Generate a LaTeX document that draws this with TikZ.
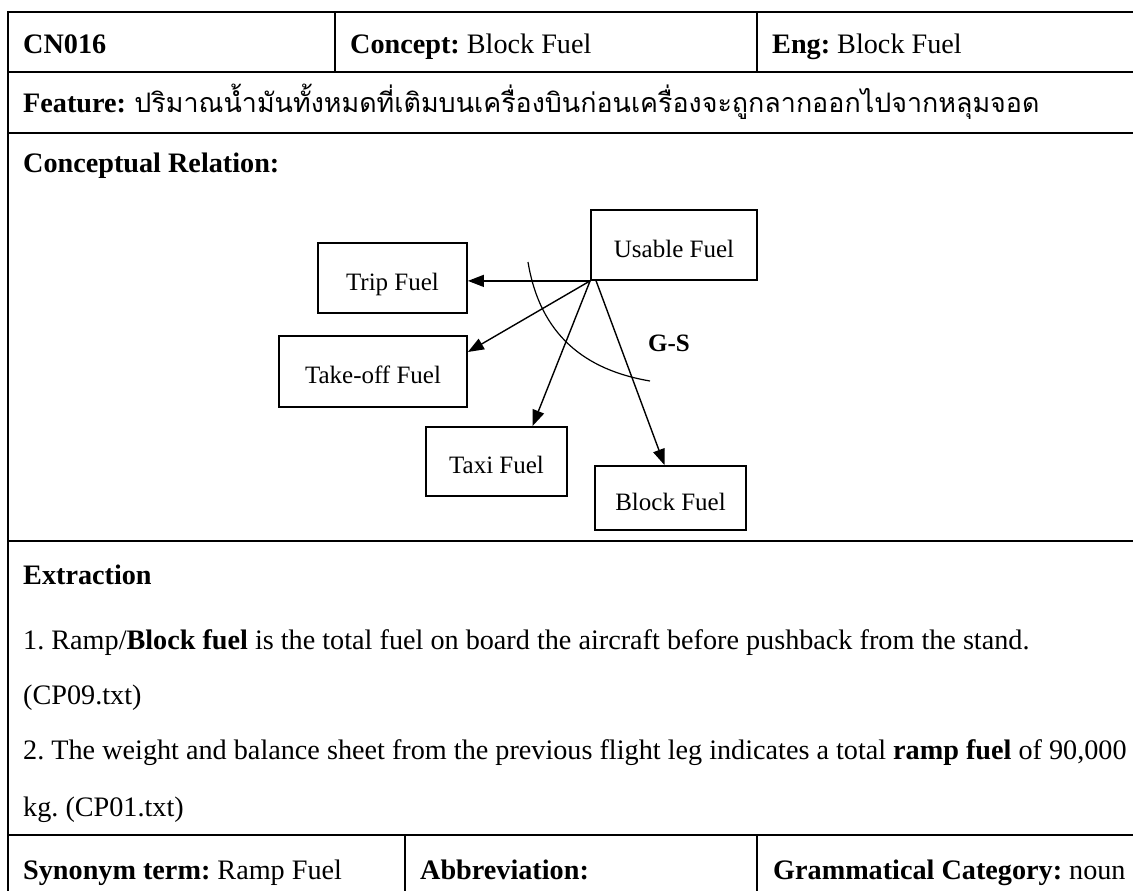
\documentclass[tikz,border=0pt]{standalone}
\usepackage{fontspec}
\setmainfont{Liberation Serif}
\newfontfamily\thaifont[Script=Thai]{Loma}
\usetikzlibrary{arrows.meta}
\frenchspacing
\begin{document}
\begin{tikzpicture}[x=1pt,y=-1pt,
  txt/.style={anchor=base west, inner sep=0pt, font=\fontsize{28.2}{34}\selectfont},
  box/.style={draw, line width=1.8pt, inner sep=0pt, text height=24pt, text depth=0pt, font=\fontsize{25}{29}\selectfont},
  hline/.style={line width=2.6pt},
  vline/.style={line width=2pt},
  arr/.style={line width=1.4pt, -{Triangle[length=16pt,width=12pt]}},
  curve/.style={line width=1.2pt}
]
\useasboundingbox (0,0) rectangle (1133,891);
% table rules
\draw[vline] (8,11) -- (8,891);
\draw[hline] (8,12) -- (1133,12);
\draw[hline] (8,72) -- (1133,72);
\draw[hline] (8,133) -- (1133,133);
\draw[hline] (8,541) -- (1133,541);
\draw[hline] (8,835) -- (1133,835);
\draw[vline] (335,12) -- (335,72);
\draw[vline] (757,12) -- (757,72);
\draw[vline] (405,835) -- (405,891);
\draw[vline] (757,835) -- (757,891);
% header row
\node[txt] (cn) at (23,54) {\textbf{CN016}};
\node[txt] (concept) at (350,54) {\textbf{Concept:} Block Fuel};
\node[txt] (eng) at (772,54) {\textbf{Eng:} Block Fuel};
% feature
\node[txt] (feat) at (23,112) {\textbf{Feature:}};
\node[txt, anchor=base west, xshift=8pt] (thai) at (feat.base east) {\resizebox{905pt}{!}{\thaifont ปริมาณน้ำมันทั้งหมดที่เติมบนเครื่องบินก่อนเครื่องจะถูกลากออกไปจากหลุมจอด}};
% conceptual relation
\node[txt] (cr) at (23,172) {\textbf{Conceptual Relation:}};
\node[box, minimum width=166pt, minimum height=70pt] (use) at (674,245) {Usable Fuel};
\node[box, minimum width=149pt, minimum height=70pt] (trip) at (392.5,278) {Trip Fuel};
\node[box, minimum width=188pt, minimum height=71pt] (take) at (373,371.5) {Take-off Fuel};
\node[box, minimum width=141pt, minimum height=69pt] (taxi) at (496.5,461.5) {Taxi Fuel};
\node[box, minimum width=151pt, minimum height=64pt] (block) at (670.5,498) {Block Fuel};
\draw[arr] (use.south west) -- (use.south west -| trip.east);
\draw[arr] (use.south west) -- ([yshift=19.5pt]take.east);
\draw[arr] (use.south west) -- ([xshift=36pt]taxi.north);
\draw[arr] ([xshift=6pt]use.south west) -- ([xshift=-6pt]block.north);
\draw[curve] (528,262) .. controls (540,335) and (585,370) .. (650,381);
\node[inner sep=0pt, font=\fontsize{25}{30}\selectfont\bfseries] (gs) at (669,343) {G-S};
% extraction
\node[txt] (ex) at (23,584) {\textbf{Extraction}};
\node[txt] (s1) at (23,649) {1. Ramp/\textbf{Block fuel} is the total fuel on board the aircraft before pushback from the stand.};
\node[txt] (s1r) at (23,704) {(CP09.txt)};
\node[txt] (s2) at (23,759) {2. The weight and balance sheet from the previous flight leg indicates a total \textbf{ramp fuel} of 90,000};
\node[txt] (s2r) at (23,816) {kg. (CP01.txt)};
% bottom row
\node[txt] (syn) at (23,879) {\textbf{Synonym term:} Ramp Fuel};
\node[txt] (abb) at (420,879) {\textbf{Abbreviation:}};
\node[txt] (gram) at (773,879) {\textbf{Grammatical Category:} noun};
\end{tikzpicture}
\end{document}
